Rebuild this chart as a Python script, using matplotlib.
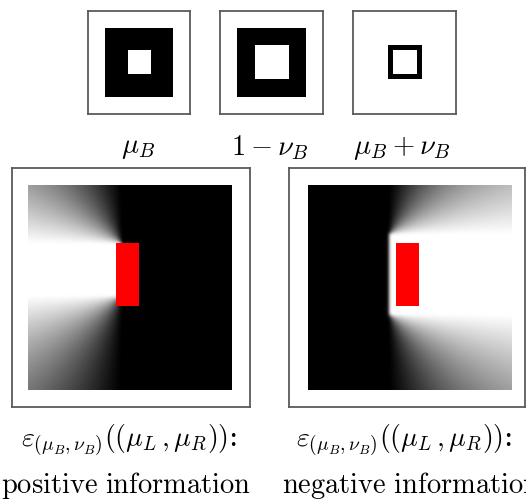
import numpy as np
import matplotlib
matplotlib.use("Agg")
import matplotlib.pyplot as plt
from matplotlib.patches import Rectangle

plt.rcParams['mathtext.fontset'] = 'cm'
plt.rcParams['font.family'] = ['DejaVu Serif']

W, H = 526, 502

# ---- top row: square geometry (fractions of panel) ----
outer_sq = [1/6, 5/6]
mu_inner = [0.39, 0.62]
nu_inner = [0.34, 0.67]
top_labels = [r'$\mu_B$', r'$1-\nu_B$', r'$\mu_B+\nu_B$']
top_frames_px = [(88, 12, 190, 115), (220, 12, 323, 115), (353, 12, 456, 115)]
top_label_x = [138, 270, 402]
top_label_y = 148
# black square, white square for each panel
top_shapes = [(outer_sq, mu_inner), (outer_sq, nu_inner), (nu_inner, mu_inner)]

# ---- bottom row ----
red_rect_x = [0.43, 0.545]
red_rect_y = [0.28, 0.59]
pos_band = [0.285, 0.54]
pos_pivot_x = 0.46
neg_band = [0.24, 0.632]
neg_pivot_x = 0.397
bottom_frames_px = [(12, 169, 250, 408), (289, 169, 525, 408)]
bottom_img_px = [(28, 187, 232, 391), (308, 187, 512, 391)]
formula = r'$\varepsilon_{(\mu_B,\nu_B)}((\mu_L\,,\mu_R))$:'
bottom_labels = [r'$\mathrm{positive\ information}$', r'$\mathrm{negative\ information}$']
bottom_label_x = [126, 411]
formula_x = [129, 404]
formula_y = 440
label_y = 486

fig = plt.figure(figsize=(W / 100, H / 100), dpi=100)


def px_axes(x1, y1, x2, y2):
    return fig.add_axes([x1 / W, 1 - y2 / H, (x2 - x1) / W, (y2 - y1) / H])


def style_frame(ax):
    ax.set_xticks([])
    ax.set_yticks([])
    for s in ax.spines.values():
        s.set_color('#5a5a5a')
        s.set_linewidth(1.3)


for (fr, (blk, wht), lab, lx) in zip(top_frames_px, top_shapes, top_labels, top_label_x):
    ax = px_axes(*fr)
    ax.set_xlim(0, 1)
    ax.set_ylim(0, 1)
    style_frame(ax)
    ax.add_patch(Rectangle((blk[0], blk[0]), blk[1] - blk[0], blk[1] - blk[0],
                           facecolor='black', edgecolor='none'))
    ax.add_patch(Rectangle((wht[0], wht[0]), wht[1] - wht[0], wht[1] - wht[0],
                           facecolor='white', edgecolor='none'))
    fig.text(lx / W, 1 - top_label_y / H, lab, fontsize=20.5, ha='center', va='center')

N = 408
xs = (np.arange(N) + 0.5) / N
X, Y = np.meshgrid(xs, xs)


def blur(a, sigma):
    r = int(3 * sigma)
    k = np.exp(-0.5 * (np.arange(-r, r + 1) / sigma) ** 2)
    k /= k.sum()
    p = np.pad(a, r, mode='edge')
    p = np.apply_along_axis(lambda v: np.convolve(v, k, mode='valid'), 0, p)
    p = np.apply_along_axis(lambda v: np.convolve(v, k, mode='valid'), 1, p)
    return p


def landscape(X, Y, pivot, band, direction):
    dx = (pivot - X) if direction < 0 else (X - pivot)
    dy = np.where(Y < band[0], band[0] - Y, np.where(Y > band[1], Y - band[1], 0.0))
    ang = np.arctan2(dy, np.maximum(dx, 1e-9))
    v = np.clip(1 - ang / (np.pi / 2), 0, 1) ** 1.1
    v = np.where(dx > 0, v, 0.0)
    return blur(v, 3.0)


imgs = [landscape(X, Y, pos_pivot_x, pos_band, -1),
        landscape(X, Y, neg_pivot_x, neg_band, +1)]

for fr, im, img, flab, lab, fx, lx in zip(bottom_frames_px, bottom_img_px, imgs,
                                          [formula, formula], bottom_labels,
                                          formula_x, bottom_label_x):
    ax = px_axes(*fr)
    style_frame(ax)
    sc = im[2] - im[0]
    ax.set_xlim((fr[0] - im[0]) / sc, (fr[2] - im[0]) / sc)
    ax.set_ylim((fr[3] - im[1]) / (im[3] - im[1]), (fr[1] - im[1]) / (im[3] - im[1]))
    ax.imshow(img, cmap='gray', vmin=0, vmax=1, extent=(0, 1, 1, 0),
              aspect='auto', interpolation='bilinear')
    ax.add_patch(Rectangle((red_rect_x[0], red_rect_y[0]), red_rect_x[1] - red_rect_x[0],
                           red_rect_y[1] - red_rect_y[0], facecolor='#ff0000',
                           edgecolor='none'))
    fig.text(fx / W, 1 - formula_y / H, flab, fontsize=20, ha='center', va='center')
    fig.text(lx / W, 1 - label_y / H, lab, fontsize=20.5, ha='center', va='center')

fig.savefig('out.png', dpi=100)
